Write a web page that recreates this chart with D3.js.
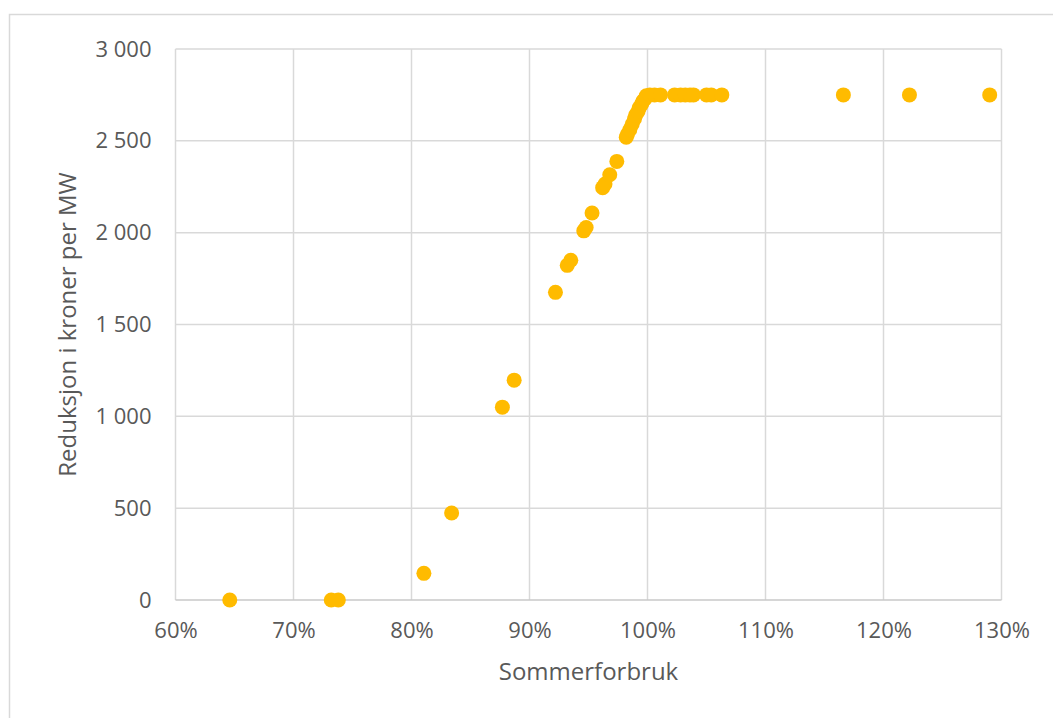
<!DOCTYPE html>
<html>
<head>
<meta charset="utf-8">
<script src="https://cdn.jsdelivr.net/npm/d3@7"></script>
<style>
  html, body { margin: 0; padding: 0; background: #ffffff; }
  svg { display: block; }
  text { font-family: "Open Sans", "Noto Sans", sans-serif; fill: #595959; }
</style>
</head>
<body>
<svg id="chart" width="1053" height="718"></svg>
<script>
// Summer consumption (share of reference) and the resulting reduction in NOK per MW
const sommerforbruk = [
  64.6, 73.2, 73.8, 81.05, 83.4, 87.7, 88.7,
  92.2, 93.2, 93.5, 94.6, 94.8, 95.3, 96.2, 96.4, 96.8, 97.4,
  98.2, 98.3, 98.5, 98.7, 98.9, 99.0, 99.2, 99.3, 99.5, 99.6, 99.8, 99.9,
  100.2, 100.6, 101.1, 102.3, 102.8, 103.2, 103.6, 103.9, 105.0, 105.4, 106.3,
  116.6, 122.2, 129.0
];
const reduksjon = [
  0, 0, 0, 145, 474, 1050, 1197,
  1675, 1822, 1850, 2010, 2028, 2107, 2245, 2265, 2315, 2388,
  2520, 2535, 2560, 2590, 2620, 2640, 2660, 2680, 2700, 2715, 2730, 2745,
  2750, 2750, 2750, 2750, 2750, 2750, 2750, 2750, 2750, 2750, 2750,
  2750, 2750, 2750
];
const xTicks = [60, 70, 80, 90, 100, 110, 120, 130];
const yTicks = [0, 500, 1000, 1500, 2000, 2500, 3000];
const xTitle = "Sommerforbruk";
const yTitle = "Reduksjon i kroner per MW";

const points = sommerforbruk.map((v, i) => ({ x: v, y: reduksjon[i] }));

const svg = d3.select("#chart");
const plot = { left: 175.5, right: 1001.5, top: 49, bottom: 600 };

// Outer chart frame (runs past the right and bottom edges)
svg.append("path")
  .attr("d", "M9.5,740V14.5H1060")
  .attr("fill", "none")
  .attr("stroke", "#d9d9d9")
  .attr("stroke-width", 1.5);

const x = d3.scaleLinear().domain([60, 130]).range([plot.left, plot.right]);
const y = d3.scaleLinear().domain([0, 3000]).range([plot.bottom, plot.top]);

const fmtNum = d => d3.format(",")(d).replace(/,/g, " ");

// Gridlines
svg.append("g")
  .selectAll("line.v")
  .data(xTicks)
  .join("line")
  .attr("x1", d => x(d)).attr("x2", d => x(d))
  .attr("y1", plot.top).attr("y2", plot.bottom)
  .attr("stroke", "#d9d9d9").attr("stroke-width", 1.5);

svg.append("g")
  .selectAll("line.h")
  .data(yTicks)
  .join("line")
  .attr("x1", plot.left).attr("x2", plot.right)
  .attr("y1", d => y(d)).attr("y2", d => y(d))
  .attr("stroke", d => d === 0 ? "#c8c8c8" : "#d9d9d9").attr("stroke-width", 1.5);

// Axes (labels only; lines come from the grid)
const xAxis = svg.append("g")
  .attr("transform", `translate(0,${plot.bottom})`)
  .call(d3.axisBottom(x).tickValues(xTicks).tickSize(0).tickPadding(22).tickFormat(d => d + "%"));
xAxis.select(".domain").remove();
xAxis.selectAll("text").attr("font-size", 22).attr("fill", "#5f5f5f")
  .attr("font-family", "'Open Sans', sans-serif");

const yAxis = svg.append("g")
  .attr("transform", `translate(${plot.left},0)`)
  .call(d3.axisLeft(y).tickValues(yTicks).tickSize(0).tickPadding(24).tickFormat(fmtNum));
yAxis.select(".domain").remove();
yAxis.selectAll("text").attr("font-size", 22).attr("fill", "#5f5f5f")
  .attr("font-family", "'Open Sans', sans-serif");

// Axis titles
svg.append("text")
  .attr("x", (plot.left + plot.right) / 2)
  .attr("y", 680)
  .attr("text-anchor", "middle")
  .attr("font-size", 24)
  .attr("fill", "#5f5f5f")
  .text(xTitle);

svg.append("text")
  .attr("transform", `translate(76,${(plot.top + plot.bottom) / 2}) rotate(-90)`)
  .attr("text-anchor", "middle")
  .attr("font-size", 24)
  .attr("fill", "#5f5f5f")
  .text(yTitle);

// Scatter points
svg.append("g")
  .selectAll("circle")
  .data(points)
  .join("circle")
  .attr("cx", d => x(d.x))
  .attr("cy", d => y(d.y))
  .attr("r", 7.5)
  .attr("fill", "#ffbb00");
</script>
</body>
</html>
